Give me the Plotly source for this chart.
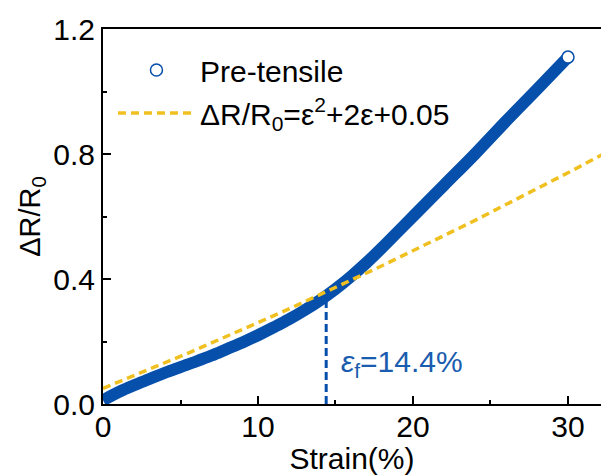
import plotly.graph_objects as go
import numpy as np

# Measured response of the pre-tensile sample
strain = [0, 1, 2, 3, 4, 5, 6, 7, 8, 9, 10, 11, 12, 13, 14, 15, 16, 17, 18, 19, 20,
          22, 24, 26, 28, 30]
response = [0.012, 0.038, 0.06, 0.08, 0.10, 0.118, 0.136, 0.155, 0.176, 0.197, 0.22,
            0.245, 0.271, 0.30, 0.332, 0.368, 0.408, 0.452, 0.50, 0.55, 0.60,
            0.70, 0.80, 0.905, 1.007, 1.11]

# Fit: dR/R0 = a*e^2 + b*e + c, with e as a fraction
fit_a, fit_b, fit_c = 1.0, 2.0, 0.05
fit_strain = np.linspace(0, 33, 67)
fit_eps = fit_strain / 100.0
fit_resp = fit_a * fit_eps ** 2 + fit_b * fit_eps + fit_c

# Critical strain marker
eps_f = 14.4
eps_f_resp = fit_a * (eps_f / 100) ** 2 + fit_b * (eps_f / 100) + fit_c

BLUE = "#0650ac"
YELLOW = "#f0c020"
LABEL_BLUE = "#1a5cae"
FONT = "Arial, 'Liberation Sans', sans-serif"

fig = go.Figure()

fig.add_trace(go.Scatter(
    x=[eps_f, eps_f], y=[0, eps_f_resp - 0.02], mode="lines",
    line=dict(color=BLUE, width=3, dash="8px,4px"),
    showlegend=False, hoverinfo="skip"))

fig.add_trace(go.Scatter(
    x=strain, y=response, mode="lines",
    line=dict(color=BLUE, width=12, shape="spline", smoothing=1.0),
    showlegend=False, hoverinfo="skip"))

fig.add_trace(go.Scatter(
    x=[strain[-1]], y=[response[-1]], mode="markers", name="Pre-tensile",
    marker=dict(symbol="circle", size=12, color="white",
                line=dict(color=BLUE, width=1.5)),
    legendrank=1, legendgroup="a"))

fig.add_trace(go.Scatter(
    x=fit_strain, y=fit_resp, mode="lines",
    name="ΔR/R<sub>0</sub>=ε<sup>2</sup>+2ε+0.05",
    line=dict(color=YELLOW, width=3.5, dash="8px,5px"),
    legendrank=2, legendgroup="b"))

fig.add_annotation(
    x=15.25, y=0.13, xref="x", yref="y", xanchor="left", yanchor="middle",
    text="<i>ε</i><sub>f</sub>=14.4%", showarrow=False,
    font=dict(family=FONT, size=30, color=LABEL_BLUE))

axis_common = dict(
    showline=True, linecolor="black", linewidth=2,
    ticks="inside", ticklen=8, tickwidth=1.5, tickcolor="black",
    showgrid=False, zeroline=False,
    tickfont=dict(family=FONT, size=30, color="black"),
)

fig.update_xaxes(
    range=[0, 32.13], dtick=10, tick0=0, mirror=True, ticklabelstandoff=-5,
    minor=dict(ticks="inside", dtick=5, ticklen=4, tickwidth=1.5, tickcolor="black"),
    title=dict(text="Strain(%)", font=dict(family=FONT, size=30, color="black"), standoff=0),
    **axis_common)
fig.update_yaxes(
    range=[0, 1.2], dtick=0.4, tick0=0, tickformat=".1f",
    minor=dict(ticks="inside", dtick=0.2, ticklen=4, tickwidth=1.5, tickcolor="black"),
    title=dict(text="ΔR/R<sub>0</sub>", font=dict(family=FONT, size=29, color="black"), standoff=4),
    **axis_common)

fig.update_layout(
    width=601, height=475,
    margin=dict(l=103, r=0, t=29, b=71),
    paper_bgcolor="white", plot_bgcolor="white",
    legend=dict(x=0.02, y=0.96, xanchor="left", yanchor="top",
                bgcolor="rgba(0,0,0,0)", traceorder="grouped", tracegroupgap=1,
                itemwidth=77,
                font=dict(family=FONT, size=30, color="black")),
)

fig.write_html("out.html")
